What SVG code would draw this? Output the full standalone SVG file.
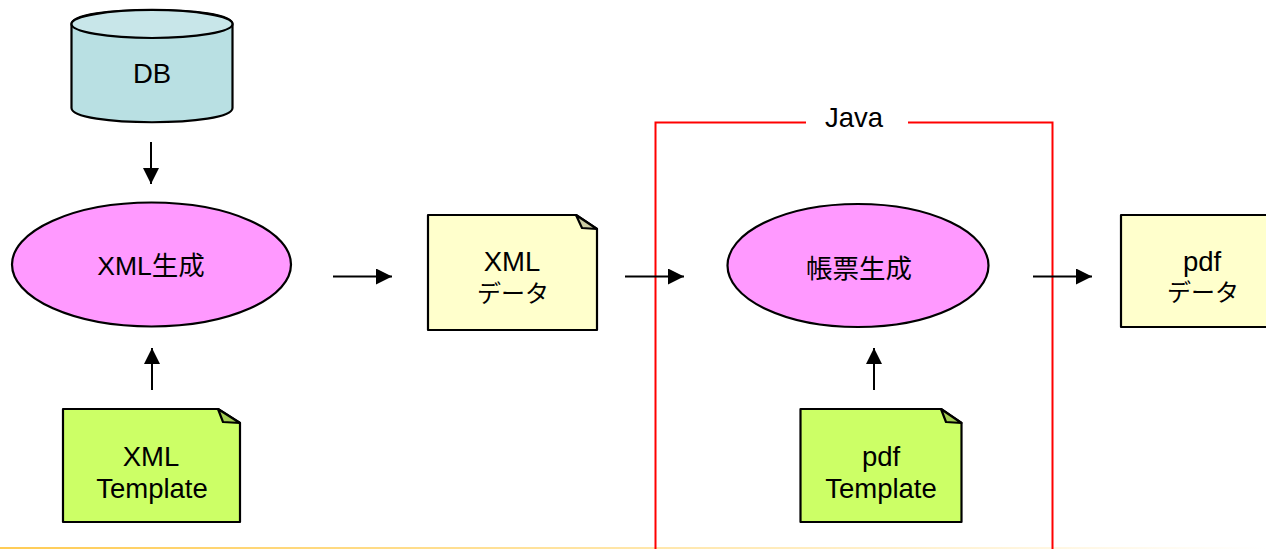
<svg xmlns="http://www.w3.org/2000/svg" width="1266" height="549" viewBox="0 0 1266 549">
<style>
text{font-family:"Liberation Sans","Noto Sans CJK JP",sans-serif;font-size:27.5px;fill:#000;text-anchor:middle}
.k{font-size:24px}
.h{font-size:26.500px}
.s{stroke:#000;stroke-width:2.200;stroke-linejoin:round}
.e{fill:#ff99ff}
.y{fill:#ffffcc}
.g{fill:#ccff66}
.fy{fill:#cccca3}
.fg{fill:#a3cc52}
.c{stroke:#000;stroke-width:2;fill:none;marker-end:url(#a)}
</style>
<defs>
<marker id="a" markerUnits="userSpaceOnUse" markerWidth="16" markerHeight="16" refX="16" refY="8" orient="auto"><path d="M0 0L16 8L0 16Z" fill="#000"/></marker>
<linearGradient id="b" gradientUnits="userSpaceOnUse" x1="0" y1="0" x2="1266" y2="0"><stop offset="0" stop-color="#ffcc55"/><stop offset=".5" stop-color="#ffe6a8"/><stop offset="1" stop-color="#ffffff"/></linearGradient>
</defs>
<rect width="1266" height="549" fill="#fff"/>
<rect x="0" y="547" width="1266" height="2" fill="url(#b)"/>
<g id="java" >
<path d="M806 122.500H655.500V549M908 122.500H1052.500V549" fill="none" stroke="#ff0000" stroke-width="2"/>
<text x="854" y="126.500">Java</text>
</g>
<g id="connectors">
<path class="c" d="M151 142V184"/>
<path class="c" d="M152 390V348"/>
<path class="c" d="M333 276.500H392"/>
<path class="c" d="M625 276.500H684"/>
<path class="c" d="M1033 276.500H1092"/>
<path class="c" d="M874 390V348"/>
</g>
<g id="db">
<path class="s" d="M71.500 24C71.500 5 232.500 5 232.500 24V108C232.500 127 71.500 127 71.500 108Z" fill="#b9e0e3"/>
<ellipse class="s" cx="152" cy="24" rx="80.500" ry="14" fill="#c8e6e9"/>
<text x="152" y="82.500">DB</text>
</g>
<g id="xml-gen">
<ellipse class="s e" cx="151.500" cy="264.500" rx="139.500" ry="62"/>
<text class="h" x="151" y="275">XML生成</text>
</g>
<g id="xml-data">
<path class="s y" d="M428 215H576L597 229V330H428Z"/>
<path class="s fy" d="M576 215L597 229L582 228Z"/>
<text x="512" y="270.500">XML</text>
<text class="k" x="513" y="302">データ</text>
</g>
<g id="report-gen">
<ellipse class="s e" cx="858" cy="265.500" rx="130.500" ry="61.500"/>
<text class="h" x="859" y="278">帳票生成</text>
</g>
<g id="pdf-data">
<path class="s y" d="M1121 215H1269L1290 229V327H1121Z"/>
<text x="1202" y="270.500">pdf</text>
<text class="k" x="1203" y="301">データ</text>
</g>
<g id="xml-template">
<path class="s g" d="M63 409H218L240 423V522H63Z"/>
<path class="s fg" d="M218 409L240 423L223 422Z"/>
<text x="151" y="465.500">XML</text>
<text x="152" y="497.500">Template</text>
</g>
<g id="pdf-template">
<path class="s g" d="M800.500 409H941L961.500 423V522H800.500Z"/>
<path class="s fg" d="M941 409L961.500 423L946 422Z"/>
<text x="881" y="465.500">pdf</text>
<text x="881" y="497.500">Template</text>
</g>
</svg>
